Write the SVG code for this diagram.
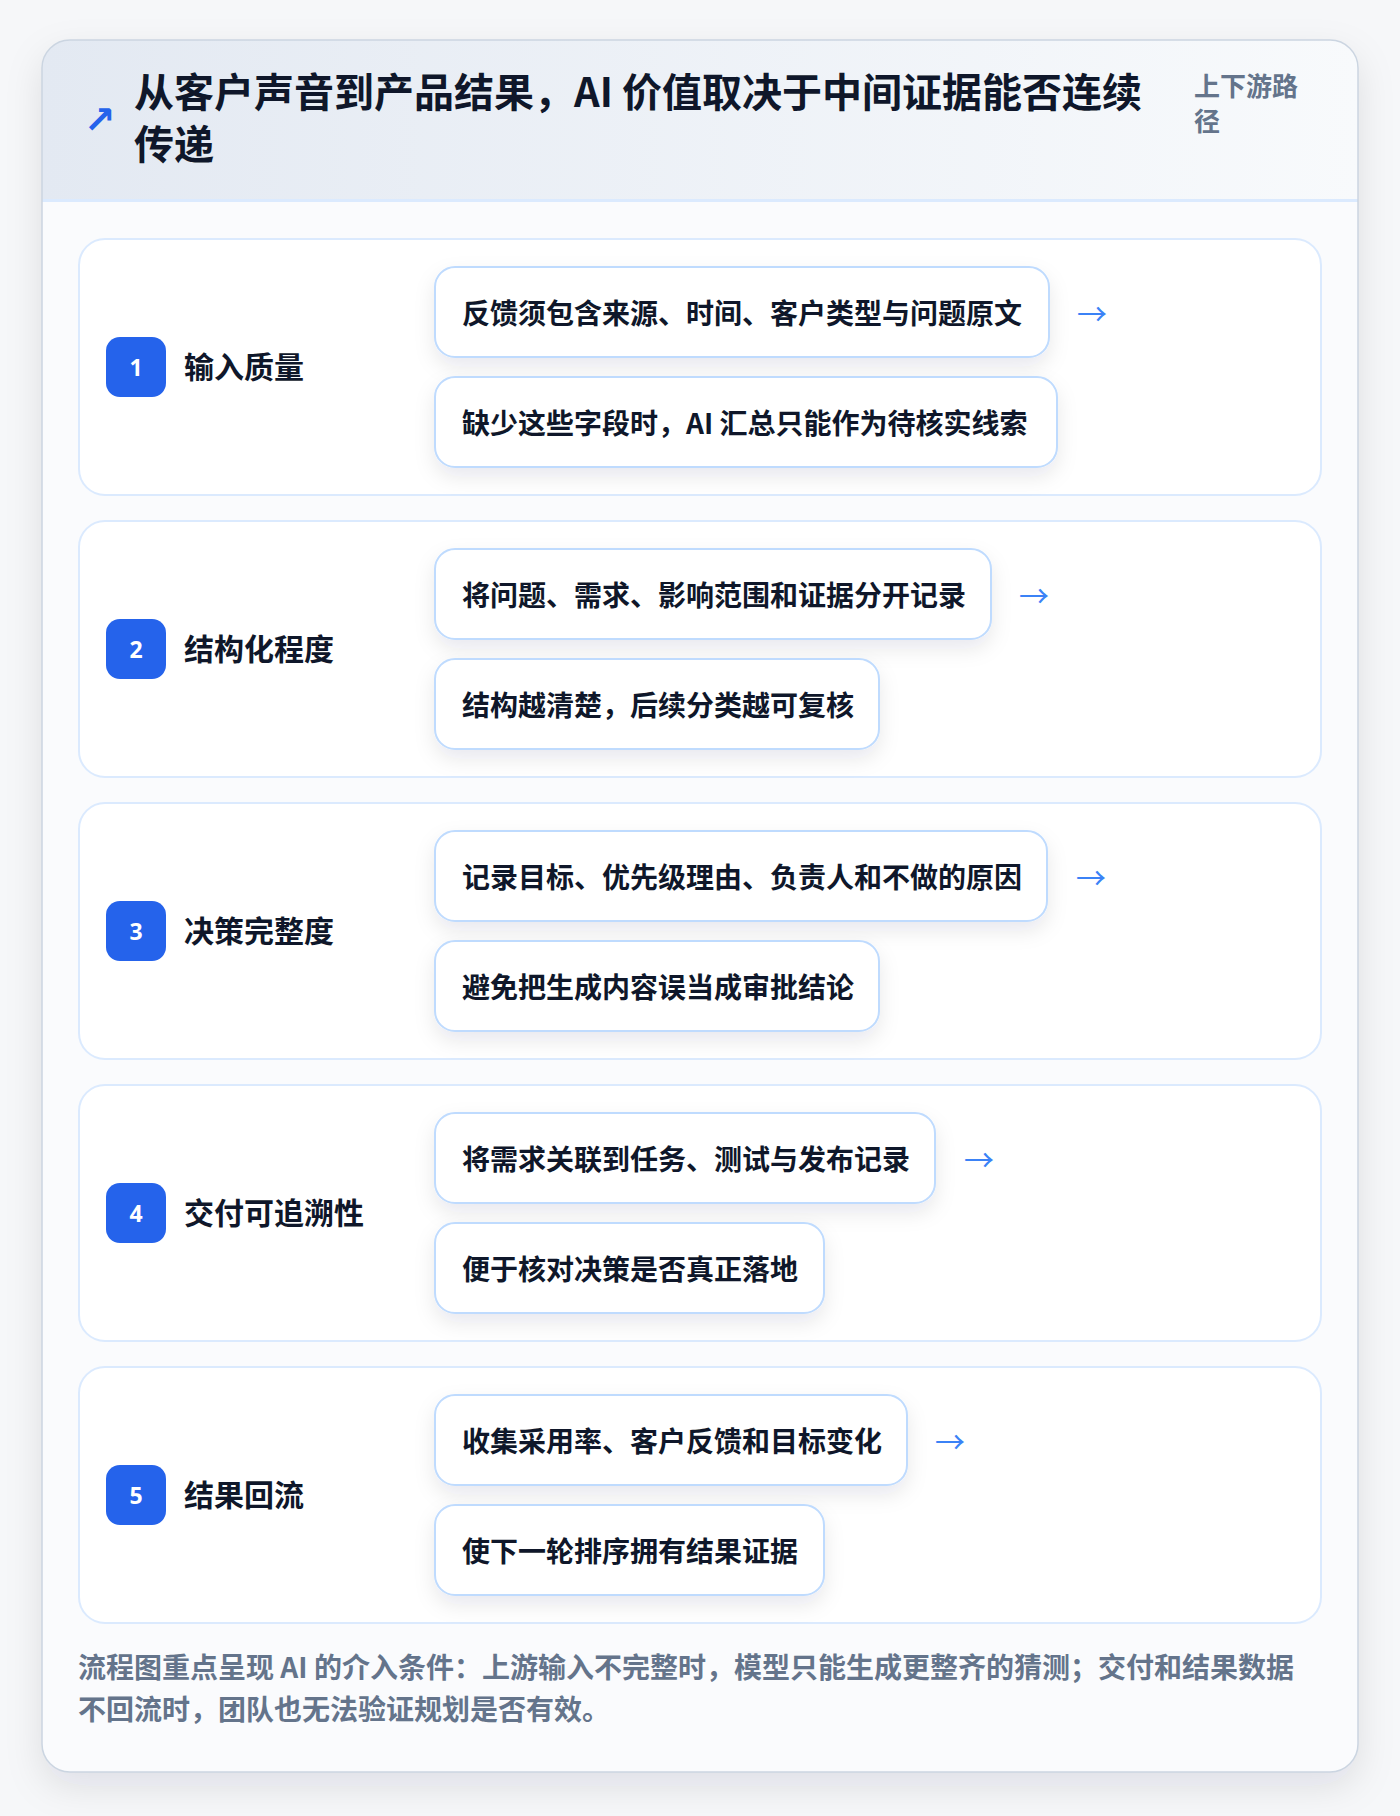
<svg xmlns="http://www.w3.org/2000/svg" width="1400" height="1816" viewBox="0 0 1400 1816">
  <defs>
    <linearGradient id="hdr" x1="0" y1="0" x2="1" y2="0">
      <stop offset="0" stop-color="#e3e9f2"/>
      <stop offset="1" stop-color="#f8fafc"/>
    </linearGradient>
    <filter id="cardShadow" x="-10%" y="-10%" width="120%" height="120%">
      <feDropShadow dx="0" dy="14" stdDeviation="18" flood-color="#0f172a" flood-opacity="0.10"/>
    </filter>
    <filter id="boxShadow" x="-10%" y="-20%" width="120%" height="170%">
      <feDropShadow dx="0" dy="9" stdDeviation="10" flood-color="#0f172a" flood-opacity="0.09"/>
    </filter>
    <clipPath id="cardClip">
      <rect x="42" y="40" width="1316" height="1732" rx="28"/>
    </clipPath>
    <style>
      text { font-family: "Noto Sans CJK SC", "Noto Sans", sans-serif; }
      .title { font-size: 40px; font-weight: 700; fill: #0f172a; }
      .side { font-size: 26px; font-weight: 600; fill: #64748b; }
      .panel { fill: #ffffff; stroke: #dbeafe; stroke-width: 2; }
      .box { fill: #ffffff; stroke: #bfdbfe; stroke-width: 2; }
      .badge { fill: #2563eb; }
      .num { font-family: "Noto Sans", "Liberation Sans", sans-serif; font-size: 23px; font-weight: 700; fill: #ffffff; text-anchor: middle; dominant-baseline: central; }
      .label { font-size: 30px; font-weight: 700; fill: #0f172a; dominant-baseline: central; }
      .btext { font-size: 28px; font-weight: 700; fill: #0f172a; dominant-baseline: central; }
      .arrow { font-size: 30px; font-weight: 400; fill: #3b82f6; dominant-baseline: central; }
      .foot { font-size: 28px; font-weight: 600; fill: #64748b; }
    </style>
  </defs>

  <rect x="0" y="0" width="1400" height="1816" fill="#f6f7f9"/>

  <!-- card -->
  <g id="card">
    <rect x="42" y="40" width="1316" height="1732" rx="28" fill="#fafbfd" filter="url(#cardShadow)"/>
    <g clip-path="url(#cardClip)">
      <rect x="42" y="40" width="1316" height="160" fill="url(#hdr)"/>
      <rect x="42" y="199" width="1316" height="3" fill="#dbeafe"/>
    </g>
    <rect x="42" y="40" width="1316" height="1732" rx="28" fill="none" stroke="#cbd5e1" stroke-width="1.5"/>
  </g>

  <g id="header">
    <text x="84" y="133" font-size="38" font-weight="700" fill="#2563eb" style="font-family: 'DejaVu Sans', sans-serif;">↗</text>
    <text class="title"><tspan x="134" y="107">从客户声音到产品结果，AI 价值取决于中间证据能否连续</tspan><tspan x="134" y="159">传递</tspan></text>
    <text class="side"><tspan x="1194" y="96">上下游路</tspan><tspan x="1194" y="131">径</tspan></text>
  </g>

  <!-- step 1 -->
  <g id="step1">
    <rect class="panel" x="79" y="239" width="1242" height="256" rx="26"/>
    <rect class="badge" x="106" y="337" width="60" height="60" rx="14"/>
    <text class="num" x="136" y="367">1</text>
    <text class="label" x="184" y="365">输入质量</text>
    <rect class="box" x="435" y="267" width="614" height="90" rx="20" filter="url(#boxShadow)"/>
    <text class="btext" x="462" y="312">反馈须包含来源、时间、客户类型与问题原文</text>
    <rect class="box" x="435" y="377" width="622" height="90" rx="20" filter="url(#boxShadow)"/>
    <text class="btext" x="462" y="422">缺少这些字段时，AI 汇总只能作为待核实线索</text>
  </g>

  <!-- step 2 -->
  <g id="step2">
    <rect class="panel" x="79" y="521" width="1242" height="256" rx="26"/>
    <rect class="badge" x="106" y="619" width="60" height="60" rx="14"/>
    <text class="num" x="136" y="649">2</text>
    <text class="label" x="184" y="647">结构化程度</text>
    <rect class="box" x="435" y="549" width="556" height="90" rx="20" filter="url(#boxShadow)"/>
    <text class="btext" x="462" y="594">将问题、需求、影响范围和证据分开记录</text>
    <rect class="box" x="435" y="659" width="444" height="90" rx="20" filter="url(#boxShadow)"/>
    <text class="btext" x="462" y="704">结构越清楚，后续分类越可复核</text>
  </g>

  <!-- step 3 -->
  <g id="step3">
    <rect class="panel" x="79" y="803" width="1242" height="256" rx="26"/>
    <rect class="badge" x="106" y="901" width="60" height="60" rx="14"/>
    <text class="num" x="136" y="931">3</text>
    <text class="label" x="184" y="929">决策完整度</text>
    <rect class="box" x="435" y="831" width="612" height="90" rx="20" filter="url(#boxShadow)"/>
    <text class="btext" x="462" y="876">记录目标、优先级理由、负责人和不做的原因</text>
    <rect class="box" x="435" y="941" width="444" height="90" rx="20" filter="url(#boxShadow)"/>
    <text class="btext" x="462" y="986">避免把生成内容误当成审批结论</text>
  </g>

  <!-- step 4 -->
  <g id="step4">
    <rect class="panel" x="79" y="1085" width="1242" height="256" rx="26"/>
    <rect class="badge" x="106" y="1183" width="60" height="60" rx="14"/>
    <text class="num" x="136" y="1213">4</text>
    <text class="label" x="184" y="1211">交付可追溯性</text>
    <rect class="box" x="435" y="1113" width="500" height="90" rx="20" filter="url(#boxShadow)"/>
    <text class="btext" x="462" y="1158">将需求关联到任务、测试与发布记录</text>
    <rect class="box" x="435" y="1223" width="389" height="90" rx="20" filter="url(#boxShadow)"/>
    <text class="btext" x="462" y="1268">便于核对决策是否真正落地</text>
  </g>

  <!-- step 5 -->
  <g id="step5">
    <rect class="panel" x="79" y="1367" width="1242" height="256" rx="26"/>
    <rect class="badge" x="106" y="1465" width="60" height="60" rx="14"/>
    <text class="num" x="136" y="1495">5</text>
    <text class="label" x="184" y="1493">结果回流</text>
    <rect class="box" x="435" y="1395" width="472" height="90" rx="20" filter="url(#boxShadow)"/>
    <text class="btext" x="462" y="1440">收集采用率、客户反馈和目标变化</text>
    <rect class="box" x="435" y="1505" width="389" height="90" rx="20" filter="url(#boxShadow)"/>
    <text class="btext" x="462" y="1550">使下一轮排序拥有结果证据</text>
  </g>

  <!-- connectors -->
  <g id="connectors">
    <text class="arrow" x="1077" y="312">→</text>
    <text class="arrow" x="1019" y="594">→</text>
    <text class="arrow" x="1076" y="876">→</text>
    <text class="arrow" x="964" y="1158">→</text>
    <text class="arrow" x="935" y="1440">→</text>
  </g>

  <g id="footer">
    <text class="foot"><tspan x="78" y="1678">流程图重点呈现 AI 的介入条件：上游输入不完整时，模型只能生成更整齐的猜测；交付和结果数据</tspan><tspan x="78" y="1720">不回流时，团队也无法验证规划是否有效。</tspan></text>
  </g>
</svg>
